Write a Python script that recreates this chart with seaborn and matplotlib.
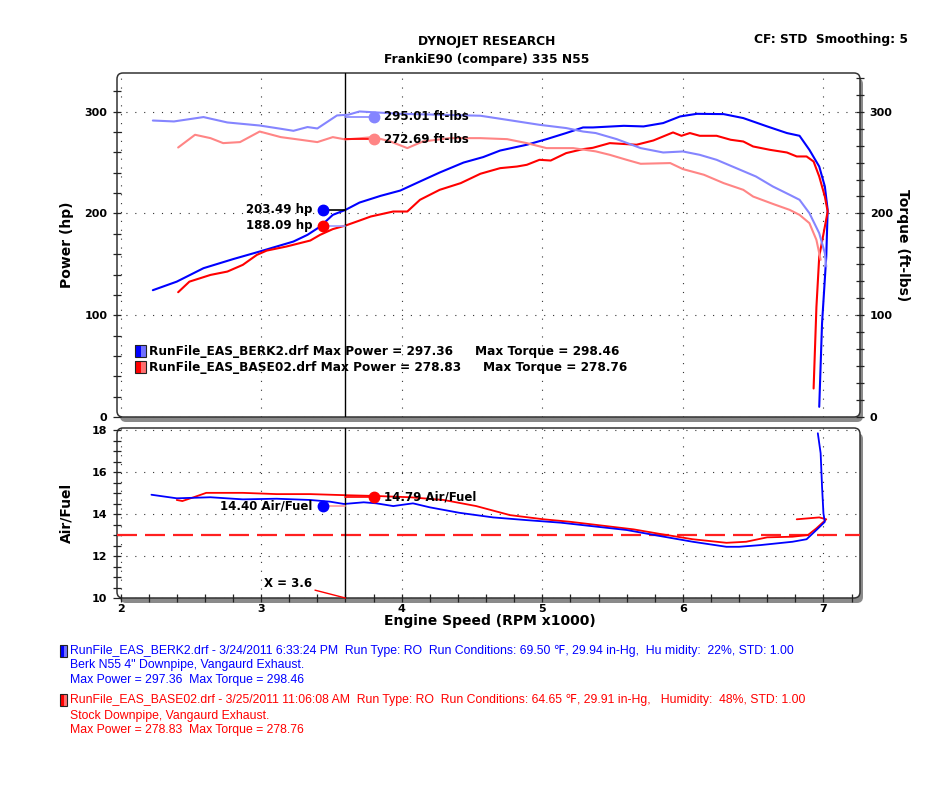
import numpy as np
import pandas as pd
import matplotlib
matplotlib.use("Agg")
import matplotlib.pyplot as plt
import seaborn as sns
from matplotlib.patches import FancyBboxPatch, Rectangle
from matplotlib.ticker import MultipleLocator, FixedLocator

# ---------------- data ----------------
blue_hp_rpm = [2.23, 2.40, 2.59, 2.80, 2.99, 3.11, 3.23, 3.33, 3.42, 3.51, 3.60, 3.70, 3.85, 3.99, 4.13, 4.27,
               4.44, 4.58, 4.70, 4.89, 5.03, 5.17, 5.29, 5.36, 5.58, 5.72, 5.86, 5.98, 6.10, 6.29, 6.43, 6.60,
               6.74, 6.83, 6.90, 6.97, 7.01, 7.03, 7.02, 6.99, 6.97]
blue_hp = [124.6, 133.0, 146.2, 155.1, 162.6, 167.5, 172.4, 179.0, 187.1, 198.6, 203.5, 210.7, 217.3, 222.5, 231.4,
           240.2, 250.0, 255.4, 261.8, 267.5, 273.0, 279.0, 284.5, 284.5, 286.1, 285.5, 288.8, 295.3, 297.9, 297.6,
           293.7, 285.5, 279.0, 276.3, 262.5, 246.1, 226.5, 203.5, 157.6, 92.0, 10.0]

red_hp_rpm = [2.41, 2.49, 2.64, 2.76, 2.87, 2.97, 3.04, 3.18, 3.35, 3.42, 3.51, 3.60, 3.70, 3.78, 3.94, 4.04, 4.13,
              4.27, 4.42, 4.56, 4.70, 4.82, 4.89, 4.98, 5.06, 5.17, 5.29, 5.36, 5.48, 5.67, 5.79, 5.93, 5.99, 6.05,
              6.12, 6.24, 6.34, 6.43, 6.50, 6.62, 6.74, 6.81, 6.88, 6.93, 6.97, 7.01, 7.03, 6.97, 6.95, 6.93]
red_hp = [122.6, 133.0, 139.6, 142.9, 149.5, 159.3, 163.5, 167.5, 173.4, 179.0, 184.6, 188.1, 193.0, 197.0, 201.9,
          201.9, 213.4, 223.2, 229.8, 239.0, 244.5, 246.1, 247.8, 252.7, 252.0, 259.3, 263.2, 264.5, 269.1, 267.5,
          271.7, 279.6, 276.3, 279.0, 276.3, 276.3, 272.4, 270.7, 265.8, 262.5, 259.9, 256.0, 256.0, 251.0, 236.3,
          216.6, 201.9, 157.6, 108.0, 28.0]

blue_tq_rpm = [2.23, 2.38, 2.59, 2.76, 2.99, 3.14, 3.23, 3.33, 3.40, 3.54, 3.62, 3.70, 3.99, 4.27, 4.56, 4.75, 4.98,
               5.17, 5.29, 5.38, 5.53, 5.70, 5.86, 6.00, 6.12, 6.24, 6.38, 6.52, 6.64, 6.76, 6.83, 6.90, 6.97, 7.01,
               7.02]
blue_tq = [291.3, 290.4, 294.7, 289.4, 286.4, 283.2, 281.2, 284.9, 283.5, 296.3, 297.0, 300.2, 297.9, 297.0, 296.0,
           292.0, 287.1, 283.9, 280.5, 279.0, 273.0, 264.2, 259.9, 260.9, 257.6, 252.7, 244.5, 236.3, 226.5, 218.3,
           213.4, 200.3, 180.6, 161.0, 147.8]

red_tq_rpm = [2.41, 2.53, 2.64, 2.73, 2.85, 2.99, 3.14, 3.28, 3.40, 3.51, 3.60, 3.80, 3.92, 4.04, 4.15, 4.34, 4.56,
              4.75, 4.89, 5.03, 5.22, 5.38, 5.48, 5.60, 5.70, 5.91, 6.00, 6.15, 6.29, 6.43, 6.50, 6.64, 6.76, 6.83,
              6.90, 6.95, 6.98]
red_tq = [264.8, 277.3, 274.0, 269.1, 270.1, 280.5, 275.0, 272.4, 270.1, 275.0, 272.7, 275.0, 270.7, 264.2, 270.7,
          274.0, 274.0, 273.0, 269.1, 264.2, 264.2, 261.0, 257.6, 252.7, 248.8, 249.5, 243.6, 238.0, 229.8, 223.2,
          216.6, 209.4, 203.5, 198.6, 190.5, 174.0, 154.4]

blue_af_rpm = [2.22, 2.40, 2.64, 2.87, 3.11, 3.35, 3.49, 3.59, 3.73, 3.82, 3.94, 4.08, 4.20, 4.41, 4.65, 4.89, 5.13,
               5.60, 5.84, 6.07, 6.31, 6.40, 6.55, 6.78, 6.88, 6.95, 7.01, 7.00, 6.99, 6.98, 6.96]
blue_af = [14.92, 14.75, 14.80, 14.70, 14.73, 14.67, 14.59, 14.48, 14.56, 14.51, 14.38, 14.51, 14.32, 14.06, 13.84,
           13.71, 13.59, 13.24, 12.95, 12.68, 12.44, 12.44, 12.52, 12.68, 12.80, 13.24, 13.63, 14.03, 15.30, 16.90,
           17.85]

red_af_rpm = [2.40, 2.44, 2.52, 2.61, 2.87, 3.11, 3.35, 3.59, 3.82, 4.06, 4.30, 4.53, 4.77, 5.01, 5.20, 5.65, 5.84,
              6.07, 6.31, 6.45, 6.60, 6.78, 6.89, 6.95, 7.02, 6.97, 6.81]
red_af = [14.67, 14.62, 14.80, 15.01, 15.01, 14.95, 14.95, 14.90, 14.86, 14.80, 14.67, 14.38, 13.95, 13.75, 13.63,
          13.27, 13.05, 12.80, 12.63, 12.68, 12.89, 12.92, 13.00, 13.32, 13.75, 13.84, 13.75]

target_af = 13.0
cursor_rpm = 3.6
cursor_hp = [203.49, 188.09]
cursor_tq = [295.01, 272.69]
cursor_af = [14.40, 14.79]
marker_rpm = [3.44, 3.80]

power_ticks = [0, 100, 200, 300]
af_ticks = [10, 12, 14, 16, 18]
rpm_ticks = [2, 3, 4, 5, 6, 7]

run_names = ["RunFile_EAS_BERK2.drf", "RunFile_EAS_BASE02.drf"]
max_power = ["297.36", "278.83"]
max_torque = ["298.46", "278.76"]

# ---------------- styling ----------------
sns.set_theme(style="white")
plt.rcParams["font.family"] = ["DejaVu Sans"]
plt.rcParams["text.color"] = "black"
plt.rcParams["axes.labelcolor"] = "black"
plt.rcParams["xtick.color"] = "black"
plt.rcParams["ytick.color"] = "black"

BLUE = "#0000ff"
RED = "#ff0000"
LBLUE = "#8585ff"
LRED = "#ff8585"

W, H = 941, 797
fig = plt.figure(figsize=(W / 100, H / 100), dpi=100)
fig.patch.set_facecolor("white")


def add_panel(left, top, right, bottom):
    x0, y0 = left / 100, (H - bottom) / 100
    w, h = (right - left) / 100, (bottom - top) / 100
    sh = FancyBboxPatch((x0 + 0.03, y0 - 0.05), w, h, boxstyle="round,pad=0,rounding_size=0.06",
                        transform=fig.dpi_scale_trans, facecolor="#8a8a8a", edgecolor="none", zorder=-2)
    fr = FancyBboxPatch((x0, y0), w, h, boxstyle="round,pad=0,rounding_size=0.06",
                        transform=fig.dpi_scale_trans, facecolor="white", edgecolor="#333333", lw=1.1, zorder=-1)
    fig.patches.extend([sh, fr])
    a = fig.add_axes([left / W, 1 - bottom / H, (right - left) / W, (bottom - top) / H])
    a.patch.set_visible(False)
    for s in a.spines.values():
        s.set_visible(False)
    return a


ax = add_panel(117, 73, 860, 417)
ax2 = add_panel(117, 428, 860, 598)
axt = ax.twinx()
axt.patch.set_visible(False)
for s in axt.spines.values():
    s.set_visible(False)

xlim = (1.975, 7.26)
for a in (ax, axt, ax2):
    a.set_xlim(*xlim)
ax.set_ylim(0, 338)
axt.set_ylim(0, 338)
ax2.set_ylim(10, 18.1)

grid_kw = dict(color="#333333", lw=0.8, linestyle=(0, (1, 7)))
for a in (ax, ax2):
    a.xaxis.set_major_locator(FixedLocator(rpm_ticks))
    a.grid(True, which="major", **grid_kw)
    a.set_axisbelow(True)


def line(a, xs, ys, color, lw, z=3):
    df = pd.DataFrame({"x": xs, "y": ys})
    sns.lineplot(data=df, x="x", y="y", ax=a, color=color, lw=lw, sort=False, estimator=None, zorder=z)


line(axt, blue_tq_rpm, blue_tq, LBLUE, 1.5, 2)
line(axt, red_tq_rpm, red_tq, LRED, 1.5, 2)
line(ax, blue_hp_rpm, blue_hp, BLUE, 1.5)
line(ax, red_hp_rpm, red_hp, RED, 1.5)
line(ax2, red_af_rpm, red_af, RED, 1.3)
line(ax2, blue_af_rpm, blue_af, BLUE, 1.3)

ax2.axhline(target_af, color="#ff2020", lw=1.6, dashes=(9, 3.6), zorder=2)
ax.axvline(cursor_rpm, color="black", lw=1.0, zorder=4)
ax2.axvline(cursor_rpm, color="black", lw=1.0, zorder=4)

ann_kw = dict(fontsize=8.5, fontweight="bold", va="center", textcoords="offset points", zorder=6)

for val, mc, cc in zip(cursor_hp, [BLUE, RED], ["black", "#9a9aff"]):
    ax.plot([marker_rpm[0], cursor_rpm], [val, val], color=cc, lw=1.2, zorder=5)
    ax.plot(marker_rpm[0], val, "o", color=mc, ms=7.5, zorder=6)
    ax.annotate(f"{val:.2f} hp", (marker_rpm[0], val), xytext=(-7.5, 0), ha="right", **ann_kw)
for val, mc, cc in zip(cursor_tq, [LBLUE, LRED], [LBLUE, RED]):
    axt.plot([cursor_rpm, marker_rpm[1]], [val, val], color=cc, lw=1.2, zorder=5)
    axt.plot(marker_rpm[1], val, "o", color=mc, ms=7.5, zorder=6)
    axt.annotate(f"{val:.2f} ft-lbs", (marker_rpm[1], val), xytext=(7.5, 0), ha="left", **ann_kw)
ax2.plot([marker_rpm[0], cursor_rpm], [cursor_af[0], cursor_af[0]], color="#ff9a9a", lw=1.2, zorder=5)
ax2.plot(marker_rpm[0], cursor_af[0], "o", color=BLUE, ms=7.5, zorder=6)
ax2.annotate(f"{cursor_af[0]:.2f} Air/Fuel", (marker_rpm[0], cursor_af[0]), xytext=(-7.5, 0), ha="right", **ann_kw)
ax2.plot([cursor_rpm, marker_rpm[1]], [cursor_af[1], cursor_af[1]], color=RED, lw=1.2, zorder=5)
ax2.plot(marker_rpm[1], cursor_af[1], "o", color=RED, ms=7.5, zorder=6)
ax2.annotate(f"{cursor_af[1]:.2f} Air/Fuel", (marker_rpm[1], cursor_af[1]), xytext=(7.5, 0), ha="left", **ann_kw)

ax2.annotate(f"X = {cursor_rpm}", xy=(cursor_rpm, 10.0), xytext=(3.36, 10.71), fontsize=8.5, fontweight="bold",
             ha="right", va="center", arrowprops=dict(arrowstyle="-", color=RED, lw=1.0, shrinkA=0, shrinkB=0),
             zorder=6)

# ---------------- ticks ----------------
tick_kw = dict(direction="inout", length=6, width=0.9, color="#222222")
ax.set_yticks(power_ticks)
ax.set_yticklabels([str(t) for t in power_ticks], fontsize=8, fontweight="bold")
ax.yaxis.set_minor_locator(MultipleLocator(20))
ax.tick_params(axis="y", which="both", left=True, pad=4, labelcolor="black", **tick_kw)
ax.tick_params(axis="x", which="both", bottom=False, labelbottom=False)

axt.set_yticks(power_ticks)
axt.set_yticklabels([str(t) for t in power_ticks], fontsize=8, fontweight="bold")
axt.yaxis.set_minor_locator(MultipleLocator(100 / 6))
axt.tick_params(axis="y", which="both", right=True, pad=4, labelcolor="black", **tick_kw)
axt.tick_params(axis="x", which="both", bottom=False, top=False, labelbottom=False)

ax2.set_yticks(af_ticks)
ax2.set_yticklabels([str(t) for t in af_ticks], fontsize=8, fontweight="bold")
ax2.yaxis.set_minor_locator(MultipleLocator(0.5))
ax2.tick_params(axis="y", which="both", left=True, pad=4, labelcolor="black", **tick_kw)
ax2.set_xticks(rpm_ticks)
ax2.set_xticklabels([str(t) for t in rpm_ticks], fontsize=8, fontweight="bold")
ax2.xaxis.set_minor_locator(MultipleLocator(0.2))
ax2.tick_params(axis="x", which="both", bottom=True, pad=1, labelcolor="black", **tick_kw)

ax.set_xlabel("")
ax2.set_xlabel("")
ax.set_ylabel("Power (hp)", fontsize=10, fontweight="bold", color="black")
ax.yaxis.set_label_coords(-0.058, 0.5)
axt.set_ylabel("Torque (ft-lbs)", fontsize=10, fontweight="bold", rotation=270, va="bottom", color="black")
axt.yaxis.set_label_coords(1.048, 0.5)
ax2.set_ylabel("Air/Fuel", fontsize=10, fontweight="bold", color="black")
ax2.yaxis.set_label_coords(-0.058, 0.5)
fig.text(490 / W, 1 - 621 / H, "Engine Speed (RPM x1000)", fontsize=10, fontweight="bold", ha="center", va="center")

# ---------------- titles ----------------
fig.text(487 / W, 1 - 41 / H, "DYNOJET RESEARCH", fontsize=8.8, fontweight="bold", ha="center", va="center")
fig.text(487 / W, 1 - 60 / H, "FrankiE90 (compare) 335 N55", fontsize=8.8, fontweight="bold", ha="center", va="center")
fig.text(908 / W, 1 - 39 / H, "CF: STD  Smoothing: 5", fontsize=8.8, fontweight="bold", ha="right", va="center")


def swatch(x, y, w, h, dark, light):
    fig.patches.append(Rectangle((x / 100, (H - y - h) / 100), w / 100, h / 100, transform=fig.dpi_scale_trans,
                                 facecolor=light, edgecolor="none", zorder=5))
    fig.patches.append(Rectangle((x / 100, (H - y - h) / 100), w * 0.55 / 100, h / 100, transform=fig.dpi_scale_trans,
                                 facecolor=dark, edgecolor="none", zorder=5))
    fig.patches.append(Rectangle((x / 100, (H - y - h) / 100), w / 100, h / 100, transform=fig.dpi_scale_trans,
                                 facecolor="none", edgecolor="#222222", lw=0.8, zorder=6))


leg_y = [352, 367]
swatch(135, 345, 11, 12, BLUE, "#7070ff")
swatch(135, 361, 11, 12, RED, "#ff7070")
tq_x = [475, 483]
for i in range(2):
    fig.text(149 / W, 1 - leg_y[i] / H, f"{run_names[i]} Max Power = {max_power[i]}", fontsize=8.75,
             fontweight="bold", ha="left", va="center")
    fig.text(tq_x[i] / W, 1 - leg_y[i] / H, f"Max Torque = {max_torque[i]}", fontsize=8.75,
             fontweight="bold", ha="left", va="center")

# ---------------- footer ----------------
foot_font = ["Liberation Sans", "DejaVu Sans"]
footer = [
    [f"{run_names[0]} - 3/24/2011 6:33:24 PM  Run Type: RO  Run Conditions: 69.50 \u2109, 29.94 in-Hg,  Hu midity:  22%, STD: 1.00",
     "Berk N55 4\" Downpipe, Vangaurd Exhaust.",
     f"Max Power = {max_power[0]}  Max Torque = {max_torque[0]}"],
    [f"{run_names[1]} - 3/25/2011 11:06:08 AM  Run Type: RO  Run Conditions: 64.65 \u2109, 29.91 in-Hg,   Humidity:  48%, STD: 1.00",
     "Stock Downpipe, Vangaurd Exhaust.",
     f"Max Power = {max_power[1]}  Max Torque = {max_torque[1]}"],
]
foot_y = [[651, 665, 680], [700, 716, 730]]
foot_col = [BLUE, RED]
swatch(60, 645, 7, 12, BLUE, "#7070ff")
swatch(60, 694, 7, 12, RED, "#ff7070")
for i in range(2):
    for j in range(3):
        fig.text(70 / W, 1 - foot_y[i][j] / H, footer[i][j], fontsize=8.8, family=foot_font, color=foot_col[i],
                 ha="left", va="center")

fig.savefig("out.png", dpi=100, facecolor="white")
